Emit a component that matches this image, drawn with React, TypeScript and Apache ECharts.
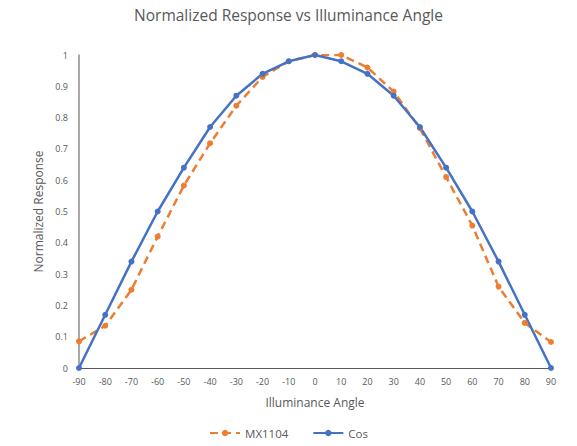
import React, { useEffect, useRef } from 'react';
import * as echarts from 'echarts';

const angles = [-90, -80, -70, -60, -50, -40, -30, -20, -10, 0, 10, 20, 30, 40, 50, 60, 70, 80, 90];
const mx1104 = [0.085, 0.135, 0.25, 0.42, 0.583, 0.718, 0.838, 0.93, 0.98, 1.0, 1.0, 0.96, 0.883, 0.766, 0.61, 0.455, 0.26, 0.144, 0.083];
const cosValues = [0, 0.17, 0.34, 0.5, 0.64, 0.77, 0.87, 0.94, 0.98, 1, 0.98, 0.94, 0.87, 0.77, 0.64, 0.5, 0.34, 0.17, 0];

const FONT = '"Open Sans", "Noto Sans", sans-serif';
const TEXT = '#595959';

const App: React.FC = () => {
  const chartRef = useRef<HTMLDivElement>(null);

  useEffect(() => {
    if (!chartRef.current) return;
    const chart = echarts.init(chartRef.current, null, { renderer: 'svg' });

    chart.setOption({
      animation: false,
      textStyle: { fontFamily: FONT },
      title: {
        text: 'Normalized Response vs Illuminance Angle',
        left: 'center',
        top: 2,
        textStyle: { fontFamily: FONT, fontSize: 15.5, fontWeight: 'normal', color: TEXT },
      },
      grid: { left: 79, right: 26, top: 55, bottom: 78 },
      legend: {
        bottom: 2,
        left: 'center',
        itemWidth: 30,
        itemHeight: 8,
        itemGap: 24,
        textStyle: { fontFamily: FONT, fontSize: 11.5, color: TEXT },
        data: ['MX1104', 'Cos'],
      },
      xAxis: {
        type: 'value',
        min: -90,
        max: 90,
        interval: 10,
        name: 'Illuminance Angle',
        nameLocation: 'middle',
        nameGap: 28,
        nameTextStyle: { fontFamily: FONT, fontSize: 12, color: TEXT },
        axisLine: { show: true, onZero: false, lineStyle: { color: '#595959', width: 1 } },
        axisTick: { show: false },
        splitLine: { show: false },
        axisLabel: { fontFamily: FONT, fontSize: 9, color: TEXT, margin: 9 },
      },
      yAxis: {
        type: 'value',
        min: 0,
        max: 1,
        interval: 0.1,
        name: 'Normalized Response',
        nameLocation: 'middle',
        nameGap: 35,
        nameRotate: 90,
        nameTextStyle: { fontFamily: FONT, fontSize: 12, color: TEXT },
        axisLine: { show: true, onZero: false, lineStyle: { color: '#8c8c8c', width: 1.5 } },
        axisTick: { show: false },
        splitLine: { show: false },
        axisLabel: {
          fontFamily: FONT,
          fontSize: 9,
          color: TEXT,
          margin: 11,
          formatter: (v: number) => String(Math.round(v * 10) / 10),
        },
      },
      series: [
        {
          name: 'MX1104',
          type: 'line',
          data: angles.map((a, i) => [a, mx1104[i]]),
          symbol: 'circle',
          symbolSize: 6,
          itemStyle: { color: '#ED7D31' },
          lineStyle: { color: '#ED7D31', width: 2.5, type: [8, 5] },
        },
        {
          name: 'Cos',
          type: 'line',
          data: angles.map((a, i) => [a, cosValues[i]]),
          symbol: 'circle',
          symbolSize: 6,
          itemStyle: { color: '#4472C4' },
          lineStyle: { color: '#4472C4', width: 2.5 },
        },
      ],
    });

    return () => {
      chart.dispose();
    };
  }, []);

  return (
    <div
      ref={chartRef}
      style={{ position: 'absolute', left: 0, top: 0, width: 577, height: 446 }}
    />
  );
};

export default App;
